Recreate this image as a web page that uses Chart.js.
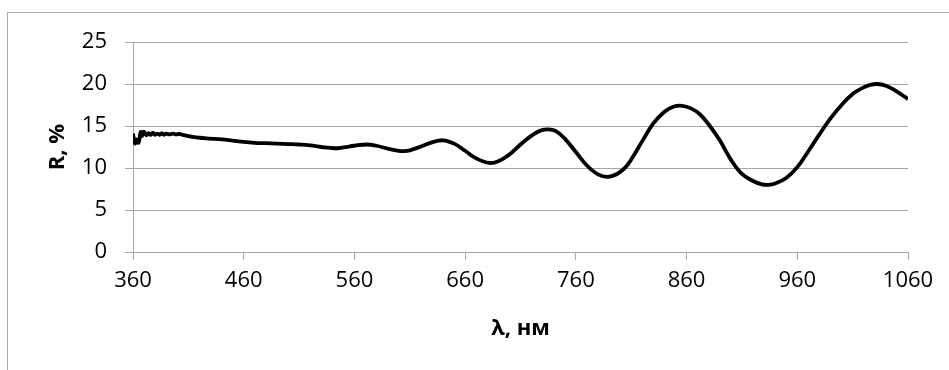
<!DOCTYPE html>
<html>
<head>
<meta charset="utf-8">
<script src="https://cdn.jsdelivr.net/npm/chart.js@4/dist/chart.umd.min.js"></script>
<style>
  body { margin: 0; background: #fff; }
  #frame { position: absolute; left: 7px; top: 12px; width: 960px; height: 380px;
           border-top: 1px solid #a9a9a9; border-left: 1px solid #a9a9a9; }
  #myChart { position: absolute; left: 0; top: 0; }
</style>
</head>
<body>
<div id="frame"></div>
<canvas id="myChart" width="949" height="370"></canvas>
<script>
// wavelength, nm
const wavelengths = [
  360, 361, 362, 363, 364, 365, 366, 367, 368, 369, 370, 372, 374, 376, 378, 380,
  382, 384, 386, 388, 390, 393, 396, 399, 402, 405, 408, 412, 420, 430, 440, 450,
  460, 470, 480, 490, 500, 510, 520, 530, 542, 550, 560, 571, 580, 590, 600, 605,
  610, 620, 630, 640, 650, 660, 670, 682, 690, 700, 710, 720, 728, 735, 742, 750,
  760, 770, 780, 789, 798, 805, 810, 820, 830, 840, 848, 856, 864, 872, 881, 890,
  900, 910, 920, 928, 934, 940, 950, 960, 970, 980, 990, 1000, 1010, 1020, 1026,
  1032, 1040, 1050, 1060
];
// reflectance, %
const reflectance = [
  14.1, 13.3, 12.9, 13.4, 13.1, 13.0, 13.6, 14.3, 13.8, 14.2, 14.3, 13.9, 14.15, 13.95, 14.2, 13.95,
  14.1, 13.95, 14.15, 13.95, 14.1, 14.0, 14.1, 14.0, 14.05, 13.95, 13.85, 13.75, 13.6, 13.5, 13.4, 13.25,
  13.1, 13.0, 12.95, 12.9, 12.85, 12.8, 12.7, 12.5, 12.35, 12.45, 12.65, 12.8, 12.65, 12.3, 12.05, 12.0,
  12.1, 12.55, 13.05, 13.3, 12.9, 12.05, 11.15, 10.6, 10.8, 11.6, 12.8, 13.85, 14.45, 14.6, 14.4, 13.5,
  11.9, 10.3, 9.25, 8.95, 9.35, 10.1, 11.0, 13.2, 15.3, 16.7, 17.3, 17.4, 17.1, 16.4, 15.0, 13.3,
  11.0, 9.3, 8.45, 8.05, 8.0, 8.15, 8.8, 10.1, 12.0, 14.0, 15.9, 17.5, 18.8, 19.6, 19.9,
  20.0, 19.8, 19.1, 18.2
];
const xTicks = [360, 460, 560, 660, 760, 860, 960, 1060];
const yTicks = [0, 5, 10, 15, 20, 25];

const gridColor = '#a6a6a6';
const tickFont = { family: "'Open Sans', sans-serif", size: 22 };
const titleFont = { family: "'Open Sans', sans-serif", size: 22, weight: 'bold' };

const points = [];
for (let i = 0; i < wavelengths.length; i++) {
  points.push({ x: wavelengths[i], y: reflectance[i] });
}

const ctx = document.getElementById('myChart').getContext('2d');
const myChart = new Chart(ctx, {
  type: 'line',
  data: {
    datasets: [{
      label: 'R',
      data: points,
      borderColor: '#000',
      borderWidth: 3.8,
      pointRadius: 0,
      fill: false,
      tension: 0.4
    }]
  },
  options: {
    responsive: false,
    animation: false,
    devicePixelRatio: 1,
    layout: { padding: { top: 42, right: 41, left: 0, bottom: 0 } },
    plugins: { legend: { display: false }, tooltip: { enabled: false } },
    scales: {
      x: {
        type: 'linear',
        min: 360,
        max: 1060,
        afterBuildTicks: function(scale) { scale.ticks = xTicks.map(v => ({ value: v })); },
        afterFit: function(scale) { scale.height = 118; },
        grid: { drawOnChartArea: false, color: gridColor, tickLength: 8 },
        border: { color: gridColor },
        ticks: { font: tickFont, color: '#000', padding: 8, maxRotation: 0, autoSkip: false,
                 callback: function(v) { return String(v); } },
        title: { display: true, text: 'λ, нм', font: titleFont, color: '#000', padding: { top: 0, bottom: 28 } }
      },
      y: {
        min: 0,
        max: 25,
        afterBuildTicks: function(scale) { scale.ticks = yTicks.map(v => ({ value: v })); },
        afterFit: function(scale) { scale.width = 133; },
        grid: { color: gridColor, tickLength: 8 },
        border: { color: gridColor },
        ticks: { font: tickFont, color: '#000', padding: 18, callback: function(v) { return String(v); } },
        title: { display: true, text: 'R, %', font: titleFont, color: '#000', padding: { top: 45, bottom: 0 } }
      }
    }
  }
});
</script>
</body>
</html>
